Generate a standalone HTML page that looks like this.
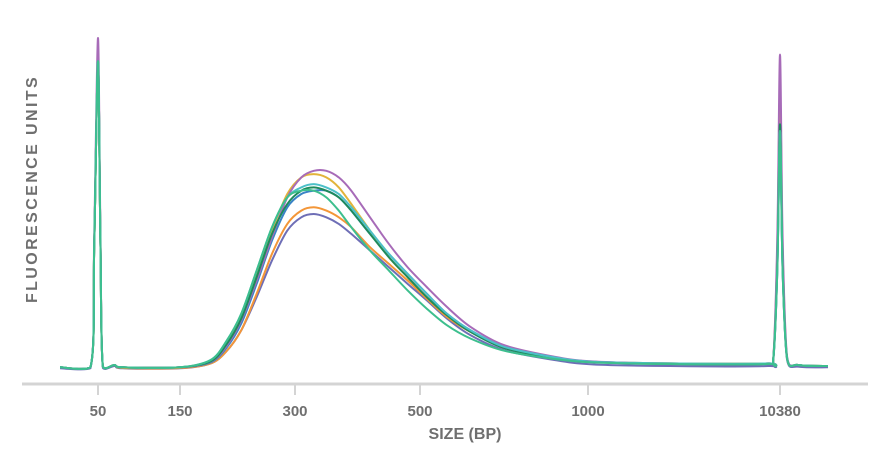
<!DOCTYPE html>
<html><head><meta charset="utf-8"><style>
html,body{margin:0;padding:0;background:#fff;width:890px;height:454px;overflow:hidden}
svg text{font-family:"Liberation Sans",sans-serif;font-weight:bold;fill:#6f6f6f}
</style></head><body>
<svg id="chart" width="890" height="454" viewBox="0 0 890 454">
<text x="0" y="0" transform="translate(37,189) rotate(-90)" text-anchor="middle" font-size="16" letter-spacing="2.4">FLUORESCENCE UNITS</text>
<line x1="22" y1="384" x2="868" y2="384" stroke="#d4d4d4" stroke-width="3"/>
<g id="ticks"></g>
<g id="series"></g>
<text x="465" y="439" text-anchor="middle" font-size="16">SIZE (BP)</text>
</svg>
<script>
const tickLabels = [50,150,300,500,1000,10380];
const sizes = [20,44,47,50,53,56,70,80,150,190,210,230,250,270,290,310,330,350,370,390,420,450,480,520,580,650,750,900,1200,5000,9800,10050,10250,10380,10900,11800,14000,20000];
const purple = [0.8,0.8,40,100,40,1,1.5,0.8,0.8,2.5,7,15,27,40,52,58,60,60,58,54,46,38,31,25,19,13,7.5,4,2.6,1.9,1.9,3,40,95,40,4,1.5,1.2];
const gold = [0.8,0.8,37,93,37,1,1.5,0.8,0.8,2.8,8,16,29,42,53,58,59,58,55,50,42,34,28,22,16.5,11.5,6.8,3.7,2.5,2,2,3,34,80,34,3.5,1.5,1.2];
const cyan = [0.8,0.8,37,93,37,1,1.5,0.8,0.8,3,8.5,17,30,43,52,55,56,55,53,49,42,35,29,23,17,12,7,3.8,2.5,2,2,3,30,72,30,3.5,1.5,1.2];
const darkgreen = [0.8,0.8,37,93,37,1,1.5,0.8,0.8,2.6,7.5,15.5,28,41,50,54,55,54,52,48,41,34,28,22,16.5,11.5,6.6,3.6,2.4,1.8,1.8,3,31,74,31,3.5,1.5,1.2];
const blue = [0.8,0.8,37,93,37,1,1.5,0.8,0.8,2.3,6.5,14,26,39,49,53,54,54,52,48,41,35,29,23,17,12,7,3.8,2.5,2,2,3,33,78,33,3.5,1.5,1.2];
const orange = [0.8,0.8,37,93,37,1,1.5,0.6,0.6,2,5.5,12,23,35,44,48,49,48,46,43,37,32,27,21.5,16,11.5,6.8,3.6,2.4,2,2,3,36,84,36,3.5,1.5,1.2];
const slate = [0.5,0.5,37,93,37,0.6,1.2,0.5,0.5,2,5.5,12,22,33,42,46,47,46,44,41,36,31,26,21,15.5,10.5,6,3,1.7,1.2,1.2,2.5,30,72,30,3,1,0.8];
const mint = [0.8,0.8,37,93,37,1,1.5,0.8,0.8,3,8.5,17,30,43,52,54,54,52,48,43,36,30,24,18.5,13.5,9.5,5.8,3.3,2.3,1.8,1.8,3,30,72,30,3.5,1.5,1.2];
const seriesList = [
 {name:'series-slate',data:slate,color:'#6e6eb6'},
 {name:'series-orange',data:orange,color:'#f39638'},
 {name:'series-blue',data:blue,color:'#3a84c6'},
 {name:'series-gold',data:gold,color:'#e2b43a'},
 {name:'series-purple',data:purple,color:'#a76bb8'},
 {name:'series-darkgreen',data:darkgreen,color:'#1e8a5c'},
 {name:'series-cyan',data:cyan,color:'#4cc0c8'},
 {name:'series-mint',data:mint,color:'#3dbf8e'}
];
const knotBp=[20,50,150,300,500,1000,10380,20000];
const knotPx=[60,98,180,295,420,588,780,828];
function xScale(bp){
  for(let i=0;i<knotBp.length-1;i++){
    if(bp<=knotBp[i+1]){const t=(bp-knotBp[i])/(knotBp[i+1]-knotBp[i]);return knotPx[i]+t*(knotPx[i+1]-knotPx[i]);}
  }
  return knotPx[knotPx.length-1];
}
function yScale(v){return 370-v*3.32;}
const NS='http://www.w3.org/2000/svg';
const tg=document.getElementById('ticks');
tickLabels.forEach(t=>{
  const x=xScale(t);
  const l=document.createElementNS(NS,'line');
  l.setAttribute('x1',x);l.setAttribute('x2',x);l.setAttribute('y1',385);l.setAttribute('y2',395);
  l.setAttribute('stroke','#d4d4d4');l.setAttribute('stroke-width','2');
  
  
  tg.appendChild(l);
  const tx=document.createElementNS(NS,'text');
  tx.setAttribute('x',x);tx.setAttribute('y',416);tx.setAttribute('text-anchor','middle');tx.setAttribute('font-size','15');
  tx.textContent=t;
  
  
  tg.appendChild(tx);
});
const sg=document.getElementById('series');
seriesList.forEach(s=>{
  const pts=sizes.map((b,i)=>[xScale(b),yScale(s.data[i])]);
  let d='M'+pts[0][0].toFixed(1)+','+pts[0][1].toFixed(1);
  for(let i=0;i<pts.length-1;i++){
    const p0=pts[Math.max(0,i-1)],p1=pts[i],p2=pts[i+1],p3=pts[Math.min(pts.length-1,i+2)];
    const k=0.15;
    let c1y=p1[1]+(p2[1]-p0[1])*k,c2y=p2[1]-(p3[1]-p1[1])*k;
    c1y=Math.min(c1y,371);c2y=Math.min(c2y,371);
    d+=' C'+(p1[0]+(p2[0]-p0[0])*k).toFixed(1)+','+c1y.toFixed(1)+' '+(p2[0]-(p3[0]-p1[0])*k).toFixed(1)+','+c2y.toFixed(1)+' '+p2[0].toFixed(1)+','+p2[1].toFixed(1);
  }
  const p=document.createElementNS(NS,'path');
  p.setAttribute('d',d);p.setAttribute('fill','none');p.setAttribute('stroke',s.color);
  p.setAttribute('stroke-width','2');p.setAttribute('stroke-linejoin','round');
  
  
  sg.appendChild(p);
});
</script>
</body></html>
